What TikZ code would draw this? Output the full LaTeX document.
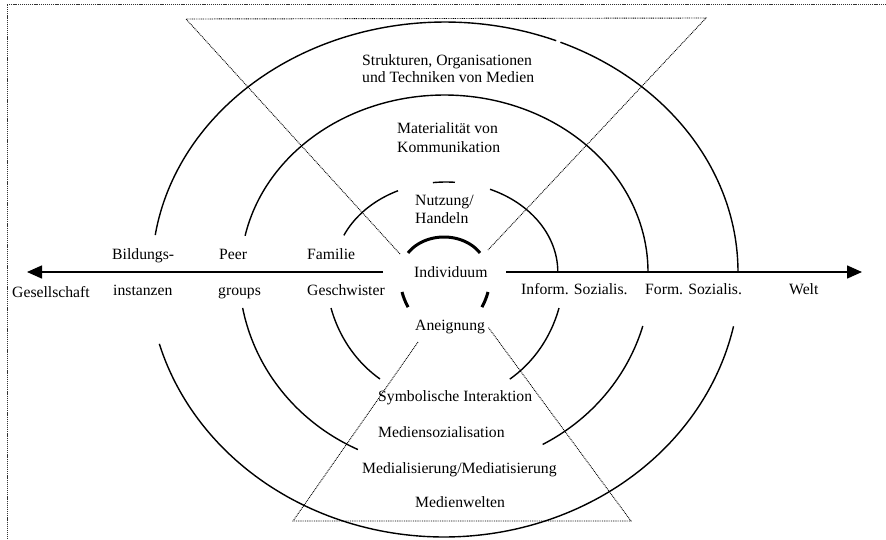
\documentclass[tikz,border=0pt]{standalone}
\usepackage{fontspec}
\setmainfont{Liberation Serif}
\usetikzlibrary{arrows.meta}
\begin{document}
\begin{tikzpicture}[x=1pt,y=-1pt,
  arcline/.style={line width=1.4pt},
  thickarc/.style={line width=3pt},
  dotline/.style={line width=0.9pt, dash pattern=on 0.9pt off 0.9pt},
  borderline/.style={line width=1pt, dash pattern=on 1.2pt off 0.9pt, black!80},
  axisline/.style={line width=1.5pt,-{Triangle[length=15pt,width=13pt]}},
  lbl/.style={anchor=base west, inner sep=0pt, font=\fontsize{15.7}{18}\selectfont},
]
\useasboundingbox (0,0) rectangle (886,539);

% border
\coordinate (b0) at (7,4);
\coordinate (b1) at (886,4);
\coordinate (b2) at (7,539);
\draw[borderline] (b1) -- (b0) -- (b2);

% dotted hourglass
\coordinate (tl) at (186,19);
\coordinate (tr) at (706,18);
\coordinate (tlend) at (400,254);
\coordinate (trend) at (488,250);
\coordinate (bl) at (293,521);
\coordinate (br) at (631,521);
\coordinate (blend) at (418,342);
\coordinate (brend) at (488,327);
\draw[dotline] (tlend) -- (tl) -- (tr) -- (trend);
\draw[dotline] (blend) -- (bl) -- (br) -- (brend);

% axis
\coordinate (axL0) at (383,272);
\coordinate (axL1) at (27,272);
\coordinate (axR0) at (506,272);
\coordinate (axR1) at (862,272);
\draw[axisline] (axL0) -- (axL1);
\draw[axisline] (axR0) -- (axR1);

% outer arcs
\draw[arcline] plot[domain=188.5:292.3, samples=80] ({445+293*cos(\x)}, {272+250*sin(\x)});
\draw[arcline] plot[domain=293.2:360, samples=60] ({445+293*cos(\x)}, {272+250*sin(\x)});
\draw[arcline] plot[domain=12:164.1, samples=120] ({444+296*cos(\x)}, {271+266*sin(\x)});

% middle arcs
\draw[arcline] plot[domain=191.8:360, samples=120] ({444.4+203.6*cos(\x)}, {272+177*sin(\x)});
\draw[arcline] plot[domain=115:169.2, samples=50] ({445+206*cos(\x)}, {271+197*sin(\x)});
\draw[arcline] plot[domain=16.2:61.7, samples=50] ({445+206*cos(\x)}, {271+197*sin(\x)});

% inner arcs
\draw[arcline] plot[domain=204:244.6, samples=40] ({446+111.8*cos(\x)}, {272+90*sin(\x)});
\draw[arcline] plot[domain=263.3:274.6, samples=12] ({446+111.8*cos(\x)}, {272+90*sin(\x)});
\draw[arcline] plot[domain=293.2:360, samples=60] ({446+111.8*cos(\x)}, {272+90*sin(\x)});
\draw[arcline] plot[domain=123.1:163.3, samples=40] ({445+119*cos(\x)}, {271+128.9*sin(\x)});
\draw[arcline] plot[domain=16.7:57, samples=40] ({445+119*cos(\x)}, {271+128.9*sin(\x)});

% thick arcs around Individuum
\draw[thickarc] plot[domain=213:327, samples=60] ({444+42.9*cos(\x)}, {272+35*sin(\x)});
\draw[thickarc] plot[domain=144:160.5, samples=12] ({445+45.6*cos(\x)}, {272+59.8*sin(\x)});
\draw[thickarc] plot[domain=19.5:36, samples=12] ({445+45.6*cos(\x)}, {272+59.8*sin(\x)});

% labels
\node[lbl] (s1) at (362,65.5) {Strukturen, Organisationen};
\node[lbl] (s2) at (362,82.5) {und Techniken von Medien};
\node[lbl] (m1) at (397,133.5) {Materialität von};
\node[lbl] (m2) at (397,152.5) {Kommunikation};
\node[lbl] (n1) at (415,205.5) {Nutzung/};
\node[lbl] (n2) at (415,223.5) {Handeln};
\node[lbl] (ind) at (414,277) {Individuum};
\node[lbl] (an) at (415,330.5) {Aneignung};
\node[lbl] (bi1) at (112,259) {Bildungs-};
\node[lbl] (bi2) at (113,295.5) {instanzen};
\node[lbl] (pe1) at (219,259) {Peer};
\node[lbl] (pe2) at (218,295.5) {groups};
\node[lbl] (fa1) at (307,259) {Familie};
\node[lbl] (fa2) at (307,295.5) {Geschwister};
\node[lbl] (ges) at (12,297) {Gesellschaft};
\node[lbl] (inf) at (521,294.5) {Inform. Sozialis.};
\node[lbl] (for) at (645,294.5) {Form. Sozialis.};
\node[lbl] (welt) at (789,294.5) {Welt};
\node[lbl] (sym) at (378,401.5) {Symbolische Interaktion};
\node[lbl] (mso) at (378,437.5) {Mediensozialisation};
\node[lbl] (mme) at (362,473.5) {Medialisierung/Mediatisierung};
\node[lbl] (mwe) at (415,507.5) {Medienwelten};
\end{tikzpicture}
\end{document}
